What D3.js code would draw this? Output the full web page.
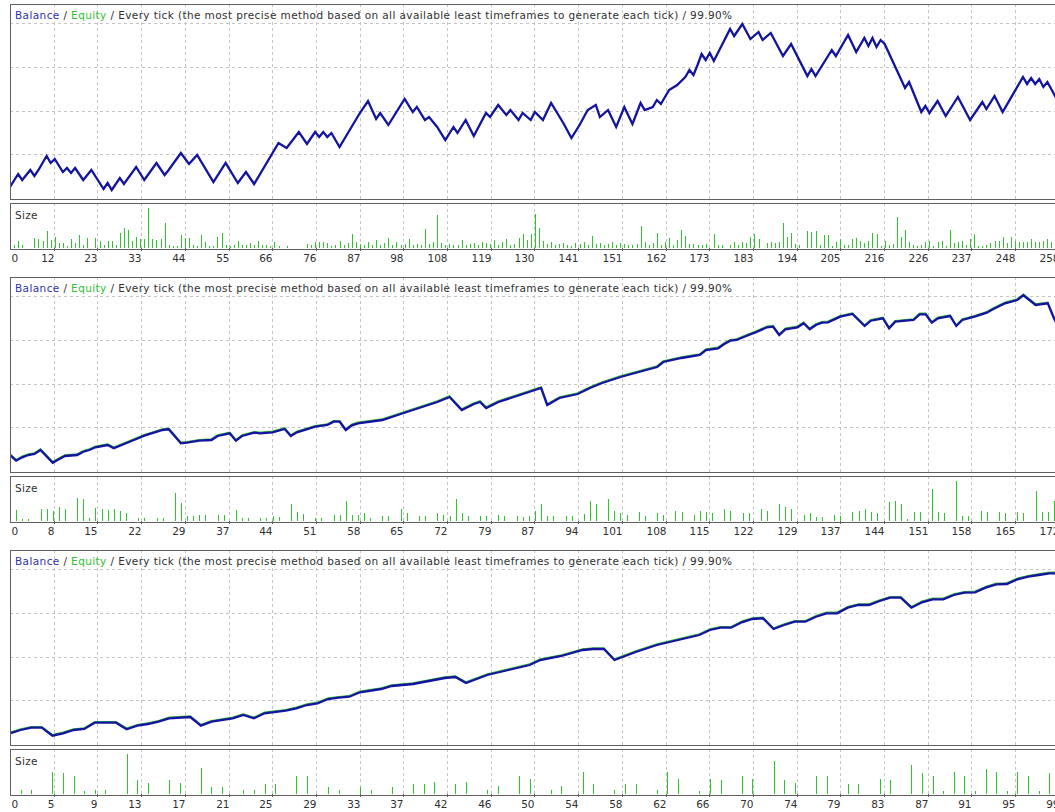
<!DOCTYPE html>
<html><head><meta charset="utf-8">
<script src="https://cdn.jsdelivr.net/npm/d3@7"></script>
<style>html,body{margin:0;padding:0;background:#fff;}svg{display:block;}</style>
</head><body>
<svg id="chart" width="1055" height="812"></svg>
<script>
// ---------- DATA ----------
const tickLabels1 = [0,12,23,33,44,55,66,76,87,98,108,119,130,141,151,162,173,183,194,205,216,226,237,248,258];
const tickLabels2 = [0,8,15,22,29,37,44,51,58,65,72,79,87,94,101,108,115,122,129,137,144,151,158,165,172];
const tickLabels3 = [0,5,9,13,17,21,25,29,33,37,42,46,50,54,58,62,66,70,74,79,83,87,91,95,99];

// balance turning points: [trade number, balance]
const balance1 = [[0,10120],[2,10250],[3,10190],[5,10290],[6,10230],[7,10290],[9,10430],[10,10360],[11,10400],[13,10270],[14,10310],[15,10260],[16,10310],[18,10190],[20,10290],[23,10100],[24,10160],[25,10090],[27,10210],[28,10150],[31,10320],[33,10190],[36,10360],[38,10240],[39,10290],[42,10460],[44,10350],[46,10440],[50,10170],[53,10360],[56,10160],[58,10270],[60,10150],[66,10560],[68,10510],[71,10670],[73,10550],[75,10670],[76,10620],[77,10670],[78,10620],[79,10660],[81,10520],[86,10860],[88,10980],[90,10800],[91,10860],[93,10740],[97,11000],[99,10870],[100,10920],[102,10790],[103,10820],[105,10720],[107,10590],[109,10720],[110,10660],[112,10790],[114,10630],[117,10860],[118,10820],[120,10940],[122,10840],[123,10890],[125,10790],[126,10860],[128,10790],[129,10870],[131,10790],[133,10960],[136,10760],[138,10610],[140,10740],[142,10890],[144,10940],[145,10820],[147,10890],[149,10720],[151,10920],[153,10750],[155,10960],[156,10890],[158,10920],[159,10990],[160,10950],[162,11090],[164,11140],[166,11220],[167,11290],[168,11240],[169,11340],[170,11450],[171,11390],[172,11460],[173,11380],[177,11700],[178,11630],[180,11750],[182,11600],[184,11670],[185,11590],[187,11660],[190,11430],[192,11550],[196,11230],[197,11300],[198,11230],[202,11490],[203,11430],[206,11640],[208,11470],[210,11610],[211,11530],[212,11610],[213,11520],[214,11590],[215,11550],[220,11110],[221,11170],[224,10870],[225,10930],[226,10860],[228,10980],[230,10830],[233,11020],[236,10790],[239,10970],[240,10900],[242,11030],[244,10870],[249,11220],[250,11150],[251,11210],[252,11150],[253,11200],[254,11120],[255,11170],[257,11020],[259,10900]];

const balance2 = [[0,10340],[1,10226],[2,10294],[3,10340],[4,10360],[5,10440],[7,10186],[8,10254],[9,10320],[11,10340],[12,10406],[13,10440],[14,10494],[16,10540],[17,10474],[19,10574],[21,10674],[22,10726],[25,10840],[26,10854],[28,10574],[29,10586],[31,10626],[33,10640],[34,10720],[36,10774],[37,10626],[38,10720],[40,10786],[41,10774],[43,10794],[45,10860],[46,10720],[47,10794],[50,10906],[52,10940],[53,11006],[54,11006],[55,10840],[56,10934],[57,10974],[61,11040],[64,11160],[67,11280],[70,11400],[72,11500],[74,11240],[76,11360],[77,11400],[78,11280],[80,11400],[83,11520],[85,11600],[87,11680],[88,11340],[90,11480],[93,11560],[95,11680],[97,11780],[100,11900],[103,12000],[106,12100],[107,12200],[110,12280],[113,12340],[114,12440],[116,12474],[117,12560],[118,12626],[119,12640],[121,12740],[122,12786],[124,12894],[125,12906],[126,12740],[127,12854],[129,12894],[130,12974],[131,12854],[132,12940],[133,12986],[134,12994],[136,13106],[138,13160],[140,12920],[141,13026],[143,13074],[144,12874],[145,13006],[148,13040],[149,13154],[150,13154],[151,12986],[152,13074],[154,13120],[155,12920],[156,13040],[158,13106],[160,13186],[161,13254],[163,13374],[165,13440],[166,13534],[168,13340],[170,13374],[171,13074],[172,12840]];

const balance3 = [[0,10234],[1,10300],[2,10346],[3,10346],[4,10186],[5,10234],[6,10300],[7,10320],[8,10446],[10,10446],[11,10314],[12,10386],[13,10420],[14,10466],[15,10534],[17,10560],[18,10386],[19,10466],[21,10534],[22,10600],[23,10534],[24,10634],[26,10686],[27,10734],[28,10800],[29,10834],[30,10920],[31,10946],[32,10966],[33,11054],[35,11120],[36,11180],[38,11220],[40,11300],[41,11340],[42,11360],[43,11240],[44,11320],[45,11400],[47,11500],[49,11600],[50,11700],[52,11780],[54,11900],[55,11920],[56,11920],[57,11700],[58,11780],[59,11860],[61,12000],[63,12100],[65,12200],[66,12300],[67,12346],[68,12346],[69,12454],[70,12520],[71,12534],[72,12320],[73,12400],[74,12466],[75,12466],[76,12566],[77,12634],[78,12634],[79,12746],[80,12800],[81,12800],[82,12880],[83,12946],[84,12946],[85,12746],[86,12854],[87,12914],[88,12914],[89,13000],[90,13046],[91,13054],[92,13146],[93,13214],[94,13220],[95,13314],[96,13366],[97,13400],[98,13434],[99,13434]];

// position size per trade (x0.01 lot)
const size1 = [0,3,7,3,0,0,10,9,7,17, 8,11,5,5,2,9,5,13,3,10, 0,10,7,3,7,7,3,15,20,18, 7,11,9,9,40,9,8,9,25,3, 2,2,13,10,10,3,2,13,6,2, 2,11,15,3,2,3,7,3,3,5, 3,7,3,3,2,6,2,0,2,0, 0,0,0,4,3,6,6,6,5,2, 3,7,3,5,14,6,4,3,6,3, 8,3,5,10,3,6,3,4,9,3, 4,3,19,4,6,33,5,3,4,3, 3,8,3,4,5,3,6,5,4,8, 3,6,9,3,4,10,14,8,14,34, 20,7,4,6,3,4,5,3,2,5, 4,6,3,12,4,5,3,4,6,3, 5,4,3,3,4,22,6,3,5,15, 3,6,10,3,8,18,12,4,4,3, 3,4,0,14,3,3,0,3,6,3, 6,5,11,14,9,0,5,6,5,6, 25,11,15,4,3,0,17,16,17,3, 13,13,2,6,9,3,3,9,10,7, 5,7,15,14,2,7,3,4,31,11, 18,6,3,2,3,6,7,2,6,7, 2,18,5,6,7,3,9,14,2,2, 3,5,7,7,11,5,11,7,6,6, 6,9,6,6,7,9,6,2,0];
const size2 = [0,11,2,2,0,12,12,10,14,12, 0,23,22,3,13,12,11,12,10,8, 0,3,3,0,3,3,0,28,18,5, 5,6,6,0,6,6,0,11,3,3, 0,3,3,5,4,0,17,9,7,0, 3,3,0,6,6,20,6,6,8,3, 0,5,5,0,12,8,0,5,5,0, 8,6,5,22,8,5,0,5,5,0, 6,5,0,5,4,5,10,17,5,5, 0,5,5,0,7,20,17,0,22,10, 8,6,0,9,5,0,8,6,0,10, 9,0,6,10,9,8,0,12,10,0, 8,8,0,12,10,0,17,14,12,0, 6,8,4,4,0,6,5,0,9,10, 12,9,8,0,19,20,17,2,9,9, 0,32,9,8,0,40,5,5,0,10, 9,0,9,8,0,9,8,0,30,9, 9,20,0];
const size3 = [0,4,4,0,22,21,18,3,4,4, 0,40,14,11,0,14,11,0,26,7, 7,0,4,4,10,10,0,18,18,0, 7,4,0,7,4,0,7,0,10,10, 12,0,10,12,0,4,8,0,18,15, 0,4,8,0,22,10,0,4,10,10, 0,4,22,15,0,3,15,14,0,18, 15,0,33,14,11,0,18,18,0,10, 10,0,15,14,0,29,21,18,3,22, 18,3,25,22,3,22,18,3,21,0];

const tradesAtLastGrid = [257.8, 171.8, 98.9];
const balanceDomains = [[10000, 11950], [10000, 13900], [10000, 13900]];
const titleParts = ["Balance", " / ", "Equity", " / Every tick (the most precise method based on all available least timeframes to generate each tick) / 99.90%"];

// ---------- LAYOUT ----------
const W = 1055, X0 = 10, GRID = 43.7, NGRID = 24;
const TOPS = [4, 277, 550];
const MAIN_H = 195, SIZE_OFF = 198.5, SIZE_BOT = 244;
const FONT = "'DejaVu Sans', Verdana, sans-serif";
const COL = {border:'#606060', grid:'#c4c4c4', bal:'#1414a0', eq:'#30c030', bar:'#2ec42e', text:'#303030', balText:'#3030b0', eqText:'#30c030'};
const EQ_LIFT = [0, 1.2, 1.2];

const svg = d3.select('#chart');
const charts = [
  {labels: tickLabels1, bal: balance1, size: size1},
  {labels: tickLabels2, bal: balance2, size: size2},
  {labels: tickLabels3, bal: balance3, size: size3}
];

charts.forEach((c, ci) => {
  const top = TOPS[ci], mainBot = top + MAIN_H, sizeTop = top + SIZE_OFF, sizeBot = top + SIZE_BOT;
  const gx = d3.scaleLinear().domain([0, NGRID]).range([X0, X0 + NGRID * GRID]);
  const x = d3.scaleLinear().domain([0, tradesAtLastGrid[ci]]).range([X0, X0 + NGRID * GRID]);
  const y = d3.scaleLinear().domain(balanceDomains[ci]).range([mainBot, top]);
  const ys = d3.scaleLinear().domain([0, 46]).range([sizeBot, sizeBot - 46]);
  const g = svg.append('g');

  const clipId = 'clip' + ci;
  svg.append('clipPath').attr('id', clipId).append('rect')
    .attr('x', X0 + 1).attr('y', top + 1).attr('width', W).attr('height', MAIN_H - 1);

  const px = v => Math.round(v) + 0.5;
  const gridK = d3.range(1, NGRID + 1);
  [[top, mainBot], [sizeTop, sizeBot]].forEach(([a, b]) => {
    g.append('g').selectAll('line').data(gridK).join('line')
      .attr('x1', k => px(gx(k))).attr('x2', k => px(gx(k)))
      .attr('y1', a).attr('y2', b)
      .attr('stroke', COL.grid).attr('stroke-dasharray', '3,3').attr('shape-rendering', 'crispEdges');
  });
  g.append('g').selectAll('line').data(d3.range(4)).join('line')
    .attr('x1', X0).attr('x2', W)
    .attr('y1', j => px(top + 19.3 + j * GRID)).attr('y2', j => px(top + 19.3 + j * GRID))
    .attr('stroke', COL.grid).attr('stroke-dasharray', '3,3').attr('shape-rendering', 'crispEdges');

  g.append('rect').attr('x', X0 + 0.5).attr('y', top + 0.5).attr('width', W).attr('height', MAIN_H)
    .attr('fill', 'none').attr('stroke', COL.border).attr('stroke-width', 1).attr('shape-rendering', 'crispEdges');
  g.append('rect').attr('x', X0 + 0.5).attr('y', px(sizeTop)).attr('width', W).attr('height', Math.round(sizeBot - sizeTop))
    .attr('fill', 'none').attr('stroke', COL.border).attr('stroke-width', 1).attr('shape-rendering', 'crispEdges');

  const bars = c.size.map((v, i) => ({i, v})).filter(d => d.v > 0);
  g.append('g').selectAll('rect').data(bars).join('rect')
    .attr('x', d => Math.round(x(d.i))).attr('width', 1)
    .attr('y', d => Math.round(ys(d.v))).attr('height', d => sizeBot - Math.round(ys(d.v)))
    .attr('fill', COL.bar).attr('shape-rendering', 'crispEdges');

  const line = d3.line().x(d => x(d[0])).y(d => y(d[1]));
  const lg = g.append('g').attr('clip-path', `url(#${clipId})`);
  lg.append('path').datum(c.bal).attr('d', line).attr('fill', 'none')
    .attr('stroke', COL.eq).attr('stroke-width', 1.2).attr('transform', `translate(0,${-EQ_LIFT[ci]})`);
  lg.append('path').datum(c.bal).attr('d', line).attr('fill', 'none')
    .attr('stroke', COL.bal).attr('stroke-width', 2.3).attr('stroke-linejoin', 'miter');

  const t = g.append('text').attr('x', X0 + 5).attr('y', top + 15)
    .attr('font-family', FONT).attr('font-size', 10.5).attr('letter-spacing', 0.4).attr('fill', COL.text);
  const cols = [COL.balText, COL.text, COL.eqText, COL.text];
  titleParts.forEach((s, k) => t.append('tspan').attr('fill', cols[k]).text(s));

  g.append('text').attr('x', X0 + 5).attr('y', sizeTop + 16)
    .attr('font-family', FONT).attr('font-size', 10.5).attr('letter-spacing', 0.3).attr('fill', COL.text).text('Size');

  const axis = d3.axisBottom(gx).tickValues(d3.range(0, NGRID + 1))
    .tickFormat(k => c.labels[k]).tickSizeInner(3).tickSizeOuter(0);
  const ag = g.append('g').attr('transform', `translate(0.5,${sizeBot})`).call(axis);
  ag.select('.domain').remove();
  ag.attr('font-family', FONT).attr('font-size', 10.5).attr('color', COL.border);
  ag.selectAll('.tick').attr('transform', k => `translate(${Math.round(gx(k))},0)`);
  ag.selectAll('.tick line').attr('shape-rendering', 'crispEdges');
  ag.selectAll('.tick text').attr('fill', COL.text).attr('dy', 0).attr('y', 13.5)
    .attr('text-anchor', k => k === 0 ? 'start' : 'end').attr('x', k => k === 0 ? 1 : 0);
  ag.selectAll('.tick').filter(k => k === 0).select('line').remove();
});
</script>
</body></html>
